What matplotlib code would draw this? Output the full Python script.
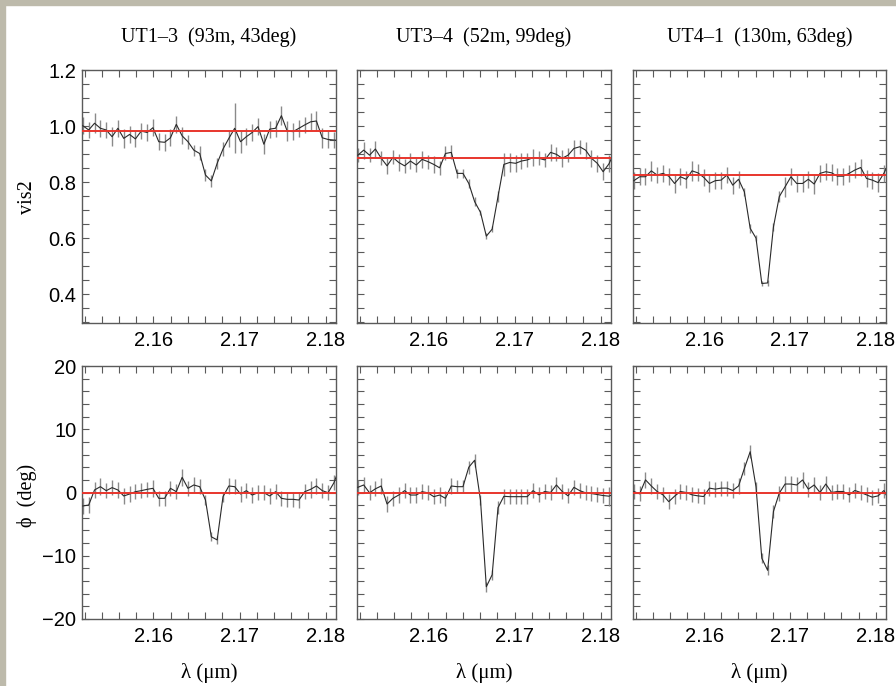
import numpy as np
import matplotlib
matplotlib.use("Agg")
import matplotlib.pyplot as plt
from matplotlib.patches import Rectangle
from matplotlib.ticker import MultipleLocator, FormatStrFormatter

# spectral channels (um) around Br gamma
wave = np.linspace(2.1518, 2.18164, 45)

baselines = ["UT1\u20133  (93m, 43deg)", "UT3\u20134  (52m, 99deg)", "UT4\u20131  (130m, 63deg)"]

# squared visibilities per baseline
vis2_13 = [1.001, 0.986, 1.010, 0.992, 0.986, 0.962, 0.992, 0.956, 0.970, 0.954, 0.982, 0.977, 0.994, 0.944, 0.942,
           0.958, 1.006, 0.965, 0.944, 0.914, 0.902, 0.825, 0.804, 0.867, 0.918, 0.956, 0.992, 0.944, 0.962, 0.977,
           0.998, 0.935, 0.989, 0.992, 1.037, 0.982, 0.980, 0.992, 1.004, 1.015, 1.018, 0.958, 0.952, 0.950, 0.948]
vis2_34 = [0.896, 0.914, 0.896, 0.918, 0.885, 0.858, 0.888, 0.870, 0.858, 0.875, 0.861, 0.881, 0.873, 0.863, 0.851,
           0.902, 0.906, 0.831, 0.831, 0.795, 0.730, 0.692, 0.607, 0.632, 0.748, 0.863, 0.870, 0.867, 0.875, 0.879,
           0.887, 0.885, 0.879, 0.906, 0.899, 0.885, 0.896, 0.920, 0.926, 0.914, 0.885, 0.867, 0.837, 0.865, 0.910]
vis2_41 = [0.805, 0.819, 0.819, 0.840, 0.825, 0.831, 0.821, 0.795, 0.819, 0.810, 0.840, 0.833, 0.817, 0.795, 0.805,
           0.807, 0.825, 0.789, 0.810, 0.765, 0.635, 0.600, 0.438, 0.440, 0.640, 0.748, 0.783, 0.819, 0.795, 0.795,
           0.810, 0.793, 0.831, 0.837, 0.833, 0.821, 0.821, 0.831, 0.843, 0.852, 0.813, 0.807, 0.798, 0.832, 0.875]
vis2_err13 = [0.03, 0.03, 0.035, 0.03, 0.03, 0.035, 0.03, 0.035, 0.03, 0.03, 0.03, 0.03, 0.03, 0.03, 0.03,
              0.03, 0.03, 0.03, 0.025, 0.02, 0.025, 0.02, 0.02, 0.02, 0.025, 0.03, 0.09, 0.04, 0.03, 0.03,
              0.03, 0.035, 0.03, 0.03, 0.035, 0.035, 0.03, 0.03, 0.03, 0.03, 0.035, 0.035, 0.03, 0.03, 0.03]
vis2_err34 = [0.025, 0.03, 0.025, 0.03, 0.025, 0.03, 0.025, 0.03, 0.025, 0.03, 0.025, 0.03, 0.025, 0.03, 0.025,
              0.025, 0.025, 0.015, 0.015, 0.015, 0.015, 0.01, 0.01, 0.01, 0.02, 0.04, 0.035, 0.03, 0.03, 0.025,
              0.03, 0.025, 0.025, 0.03, 0.025, 0.03, 0.025, 0.03, 0.025, 0.03, 0.03, 0.03, 0.03, 0.03, 0.03]
vis2_err41 = [0.03, 0.03, 0.03, 0.035, 0.03, 0.03, 0.03, 0.035, 0.03, 0.03, 0.035, 0.03, 0.03, 0.03, 0.03,
              0.03, 0.03, 0.03, 0.03, 0.015, 0.015, 0.01, 0.01, 0.01, 0.015, 0.02, 0.035, 0.03, 0.03, 0.03,
              0.03, 0.035, 0.03, 0.03, 0.03, 0.03, 0.03, 0.03, 0.03, 0.03, 0.03, 0.03, 0.035, 0.03, 0.03]

# differential phases (deg)
phi_13 = [-2.13, -1.98, 0.40, 0.92, 0.29, 0.77, 0.40, -0.55, -0.24, 0.13, 0.29, 0.50, 0.66, -0.92, -0.92,
          0.66, 0.13, 2.4, 0.66, 1.19, 0.92, -1.19, -7.0, -7.5, -0.66, 1.03, 0.92, -0.24, 0.29, -0.40,
          -0.03, -0.03, -0.55, 0.13, -0.92, -1.08, -1.08, -1.19, 0.13, 0.50, 1.03, 0.29, -0.03, 1.55, 4.0]
phi_34 = [0.82, 1.19, -0.05, 0.58, 1.03, -1.82, -0.92, -0.40, 0.29, -0.40, -0.40, 0.13, -0.05, -0.66, -0.40,
          -0.92, 1.03, 0.92, 0.92, 4.0, 5.1, -1.2, -14.9, -13.0, -2.4, -0.6, -0.66, -0.66, -0.66, -0.66,
          0.29, -0.37, 0.16, 0.0, 1.19, 0.16, -0.53, 0.82, 0.29, -0.05, -0.16, -0.32, -0.48, -0.58, -0.2]
phi_41 = [0.16, -0.21, 2.0, 1.03, 0.16, -0.37, -1.45, -0.58, 0.16, 0.0, -0.37, -0.53, -0.64, 0.69, 0.53,
          0.69, 0.69, 0.32, 1.03, 3.8, 6.45, 0.9, -10.4, -12.3, -3.0, -0.1, 1.34, 1.34, 1.19, 1.98,
          0.53, 1.19, 0.0, 1.34, 0.0, 0.16, 0.16, -0.37, 0.32, 0.0, -0.37, -0.74, -0.53, 0.32, -1.5]
phi_err13 = [1.2, 1.2, 1.2, 1.3, 1.2, 1.2, 1.2, 1.2, 1.2, 1.2, 1.2, 1.2, 1.3, 1.2, 1.2,
             1.2, 1.2, 1.3, 1.2, 1.2, 1.2, 0.8, 0.7, 0.7, 0.8, 1.2, 1.2, 1.2, 1.2, 1.2,
             1.2, 1.2, 1.2, 1.2, 1.2, 1.2, 1.2, 1.2, 1.2, 1.3, 1.2, 1.2, 1.2, 1.2, 1.2]
phi_err34 = [1.2, 1.2, 1.2, 1.2, 1.2, 1.2, 1.2, 1.2, 1.2, 1.2, 1.2, 1.2, 1.2, 1.2, 1.2,
             1.2, 1.2, 1.0, 1.0, 1.0, 1.0, 0.8, 0.8, 0.8, 1.0, 1.2, 1.2, 1.2, 1.2, 1.2,
             1.2, 1.2, 1.2, 1.2, 1.3, 1.2, 1.2, 1.2, 1.2, 1.2, 1.2, 1.2, 1.2, 1.5, 1.2]
phi_err41 = [1.2, 1.2, 1.3, 1.2, 1.2, 1.2, 1.2, 1.2, 1.2, 1.2, 1.2, 1.2, 1.2, 1.2, 1.2,
             1.2, 1.2, 1.2, 1.2, 1.0, 1.0, 0.8, 0.8, 0.8, 1.0, 1.2, 1.3, 1.3, 1.2, 1.2,
             1.2, 1.2, 1.2, 1.3, 1.2, 1.2, 1.2, 1.2, 1.2, 1.2, 1.2, 1.2, 1.2, 1.2, 1.2]

# continuum levels of the model (red lines)
vis2_fit = [0.982, 0.885, 0.824]
phi_fit = [0.0, 0.0, 0.0]

vis2 = [vis2_13, vis2_34, vis2_41]
vis2_err = [vis2_err13, vis2_err34, vis2_err41]
phi = [phi_13, phi_34, phi_41]
phi_err = [phi_err13, phi_err34, phi_err41]

serif = ["Liberation Serif", "DejaVu Serif"]
plt.rcParams["font.family"] = ["Liberation Sans", "DejaVu Sans"]

W, H = 896, 686
fig = plt.figure(figsize=(W / 100, H / 100), dpi=100)

# frame strips along the top and left edge
fig.patches.append(Rectangle((0, 1 - 5 / H), 1, 5 / H, transform=fig.transFigure, color="#bdbaab", zorder=0))
fig.patches.append(Rectangle((0, 0), 5 / W, 1, transform=fig.transFigure, color="#bdbaab", zorder=0))

col_left = [82, 357, 633]
col_width = [254, 254, 253]
row_top = [70, 366]
row_h = 253

frame = "#5a5a5a"
tick_fs = 14.5
label_fs = 14.5


def style(ax, ylo, yhi, ymaj, ymin, yfmt, show_y):
    ax.set_xlim(2.1517, 2.1812)
    ax.set_ylim(ylo, yhi)
    ax.xaxis.set_major_locator(MultipleLocator(0.01))
    ax.xaxis.set_minor_locator(MultipleLocator(0.002))
    ax.xaxis.set_major_formatter(FormatStrFormatter("%.2f"))
    ax.yaxis.set_major_locator(MultipleLocator(ymaj))
    ax.yaxis.set_minor_locator(MultipleLocator(ymin))
    if yfmt:
        ax.yaxis.set_major_formatter(FormatStrFormatter(yfmt))
    ax.tick_params(which="both", direction="in", top=True, right=True, length=5, width=0.8, color=frame)
    ax.tick_params(axis="x", which="major", pad=6, labelsize=tick_fs)
    ax.tick_params(axis="y", which="major", pad=4, labelsize=tick_fs, labelleft=show_y)
    for s in ax.spines.values():
        s.set_color(frame)
        s.set_linewidth(1.0)


for i in range(3):
    for r in range(2):
        left = col_left[i] / W
        bottom = 1 - (row_top[r] + row_h) / H
        ax = fig.add_axes([left, bottom, col_width[i] / W, row_h / H])
        if r == 0:
            y, yerr, fit = vis2[i], vis2_err[i], vis2_fit[i]
            style(ax, 0.297, 1.2, 0.2, 0.05, "%.1f", i == 0)
        else:
            # default formatter keeps the proper minus sign
            y, yerr, fit = phi[i], phi_err[i], phi_fit[i]
            style(ax, -20, 20, 10, 2, None, i == 0)
        ax.errorbar(wave, y, yerr=yerr, fmt="none", ecolor="#8a8a8a", elinewidth=1.0, capsize=0, zorder=2)
        ax.plot(wave, y, color="#2a2a2a", lw=0.8, zorder=3)
        ax.axhline(fit, color="#e8352c", lw=1.4, zorder=4)

    xc = (col_left[i] + col_width[i] / 2) / W
    fig.text(xc, 1 - 37 / H, baselines[i], ha="center", va="center", fontsize=label_fs, family=serif)
    fig.text(xc, 1 - 673 / H, "\u03bb (\u03bcm)", ha="center", va="center", fontsize=15, family=serif)

fig.text(27 / W, 1 - 197 / H, "vis2", rotation=90, ha="center", va="center", fontsize=label_fs, family=serif)
fig.text(27 / W, 1 - 495 / H, "\u03d5  (deg)", rotation=90, ha="center", va="center", fontsize=label_fs, family=serif)

fig.savefig("out.png", dpi=100, facecolor="white")
